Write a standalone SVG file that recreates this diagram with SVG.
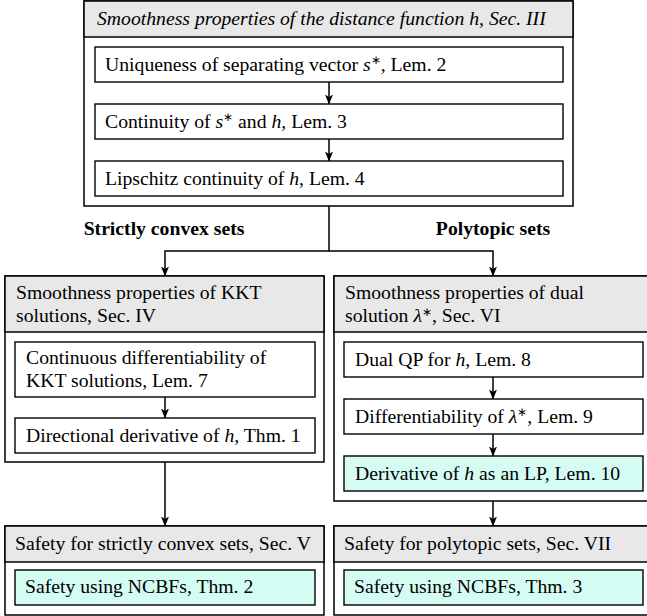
<svg xmlns="http://www.w3.org/2000/svg" width="647" height="616" viewBox="0 0 647 616">
<defs>
<marker id="ah" markerWidth="11" markerHeight="10" refX="9.5" refY="5" orient="auto" markerUnits="userSpaceOnUse">
<path d="M0,1 L10,5 L0,9 L2.5,5 Z" fill="#000"/>
</marker>
<style>
.outer{fill:#fff;stroke:#000;stroke-width:1.5}
.hdr{fill:#e8e8e8;stroke:#000;stroke-width:1.5}
.box{fill:#fff;stroke:#000;stroke-width:1.4}
.cyan{fill:#d5fcf3;stroke:#000;stroke-width:1.4}
text{font-family:'Liberation Serif',serif;font-size:19.7px;fill:#000}
.it{font-style:italic}
.b{font-weight:bold}
.sup{font-size:12px}
.conn{fill:none;stroke:#000;stroke-width:1.5}
</style>
</defs>
<rect width="647" height="616" fill="#fff"/>
<g font-family="Liberation Serif, serif">
<g id="top">
<rect class="outer" x="84" y="1" width="489" height="205"/>
<rect class="hdr" x="84" y="1" width="489" height="36"/>
<text class="it" x="97" y="25">Smoothness properties of the distance function h, Sec. III</text>
</g>
<g id="lem2">
<rect class="box" x="95" y="47" width="468" height="35"/>
<text x="105" y="71">Uniqueness of separating vector <tspan class="it">s</tspan><tspan class="sup" dy="-7">∗</tspan><tspan dy="7">, Lem. 2</tspan></text>
</g>
<g id="lem3">
<rect class="box" x="95" y="104" width="468" height="35"/>
<text x="105" y="128">Continuity of <tspan class="it">s</tspan><tspan class="sup" dy="-7">∗</tspan><tspan dy="7"> and </tspan><tspan class="it">h</tspan>, Lem. 3</text>
</g>
<g id="lem4">
<rect class="box" x="95" y="161" width="468" height="35"/>
<text x="105" y="185">Lipschitz continuity of <tspan class="it">h</tspan>, Lem. 4</text>
</g>

<g id="secIV">
<rect class="outer" x="5" y="276" width="319" height="186"/>
<rect class="hdr" x="5" y="276" width="319" height="56"/>
<text x="16" y="299">Smoothness properties of KKT</text>
<text x="16" y="322">solutions, Sec. IV</text>
</g>
<g id="lem7">
<rect class="box" x="15" y="342" width="300" height="55"/>
<text x="26" y="364">Continuous differentiability of</text>
<text x="26" y="387">KKT solutions, Lem. 7</text>
</g>
<g id="thm1">
<rect class="box" x="15" y="418" width="300" height="35"/>
<text x="26" y="442">Directional derivative of <tspan class="it">h</tspan>, Thm. 1</text>
</g>

<g id="secVI">
<rect class="outer" x="334" y="276" width="319" height="225"/>
<rect class="hdr" x="334" y="276" width="319" height="56"/>
<text x="345" y="299">Smoothness properties of dual</text>
<text x="345" y="322">solution <tspan class="it">λ</tspan><tspan class="sup" dy="-6">∗</tspan><tspan dy="6">, Sec. VI</tspan></text>
</g>
<g id="lem8">
<rect class="box" x="344" y="342" width="299" height="35"/>
<text x="355" y="366">Dual QP for <tspan class="it">h</tspan>, Lem. 8</text>
</g>
<g id="lem9">
<rect class="box" x="344" y="399" width="299" height="35"/>
<text x="355" y="423">Differentiability of <tspan class="it">λ</tspan><tspan class="sup" dy="-7">∗</tspan><tspan dy="7">, Lem. 9</tspan></text>
</g>
<g id="lem10">
<rect class="cyan" x="344" y="456" width="299" height="35"/>
<text x="355" y="480">Derivative of <tspan class="it">h</tspan> as an LP, Lem. 10</text>
</g>

<g id="secV">
<rect class="outer" x="5" y="526" width="319" height="89"/>
<rect class="hdr" x="5" y="526" width="319" height="36"/>
<text x="15" y="550">Safety for strictly convex sets, Sec. V</text>
</g>
<g id="thm2">
<rect class="cyan" x="15" y="570" width="300" height="35"/>
<text x="25" y="593">Safety using NCBFs, Thm. 2</text>
</g>

<g id="secVII">
<rect class="outer" x="334" y="526" width="319" height="89"/>
<rect class="hdr" x="334" y="526" width="319" height="36"/>
<text x="344" y="550">Safety for polytopic sets, Sec. VII</text>
</g>
<g id="thm3">
<rect class="cyan" x="344" y="570" width="299" height="35"/>
<text x="354" y="593">Safety using NCBFs, Thm. 3</text>
</g>

<g id="connectors">
<path class="conn" d="M329,82 V104" marker-end="url(#ah)"/>
<path class="conn" d="M329,139 V161" marker-end="url(#ah)"/>
<path class="conn" d="M329,206 V251 H165 V276" marker-end="url(#ah)"/>
<path class="conn" d="M329,251 H493 V276" marker-end="url(#ah)"/>
<path class="conn" d="M165,397 V418" marker-end="url(#ah)"/>
<path class="conn" d="M165,462 V526" marker-end="url(#ah)"/>
<path class="conn" d="M493,377 V399" marker-end="url(#ah)"/>
<path class="conn" d="M493,434 V456" marker-end="url(#ah)"/>
<path class="conn" d="M493,501 V526" marker-end="url(#ah)"/>
<text class="b" x="164" y="235" text-anchor="middle">Strictly convex sets</text>
<text class="b" x="493" y="235" text-anchor="middle">Polytopic sets</text>
</g>
</g>
</svg>
